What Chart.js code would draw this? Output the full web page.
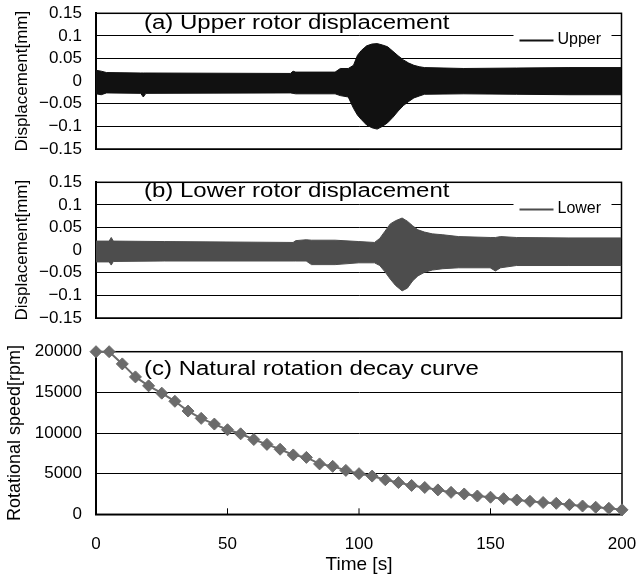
<!DOCTYPE html>
<html>
<head>
<meta charset="utf-8">
<script src="https://cdn.jsdelivr.net/npm/chart.js@4.4.1/dist/chart.umd.min.js"></script>
<style>
  html, body { margin: 0; padding: 0; background: #fff; overflow: hidden; }
  #wrap { position: relative; width: 639px; height: 581px; overflow: hidden; }
  #wrap canvas { position: absolute; left: 0; display: block; }
</style>
</head>
<body>
<div id="wrap">
  <canvas id="upperChart" width="639" height="160" style="top:0"></canvas>
  <canvas id="lowerChart" width="639" height="160" style="top:169px"></canvas>
  <canvas id="speedChart" width="639" height="251" style="top:330px"></canvas>
</div>
<script>
// upper rotor signal, read as envelope (max / min) over time
const upperTime = [0, 2, 4, 17, 18, 19, 74, 75, 76, 91, 93, 96, 98, 99.5, 101, 103, 105, 107, 109, 111, 113, 115, 117, 119, 121, 123, 125, 140, 160, 180, 200];
const upperMax = [0.024, 0.022, 0.019, 0.018, 0.018, 0.018, 0.017, 0.022, 0.020, 0.020, 0.028, 0.028, 0.035, 0.057, 0.068, 0.078, 0.082, 0.083, 0.080, 0.076, 0.066, 0.056, 0.047, 0.040, 0.035, 0.032, 0.030, 0.028, 0.029, 0.030, 0.030];
const upperMin = [-0.028, -0.030, -0.026, -0.027, -0.035, -0.027, -0.026, -0.027, -0.028, -0.028, -0.032, -0.035, -0.060, -0.075, -0.085, -0.097, -0.103, -0.106, -0.100, -0.092, -0.080, -0.066, -0.054, -0.045, -0.037, -0.033, -0.029, -0.028, -0.029, -0.030, -0.030];

// lower rotor signal envelope
const lowerTime = [0, 5, 5.8, 6.6, 26, 75, 76, 80, 82, 91, 100, 106, 108, 110, 112, 114, 116.5, 118.5, 120.5, 122.5, 125, 128, 132, 138, 150, 152, 154, 160, 180, 200];
const lowerMax = [0.020, 0.020, 0.028, 0.020, 0.019, 0.017, 0.021, 0.023, 0.022, 0.022, 0.019, 0.017, 0.026, 0.042, 0.058, 0.065, 0.071, 0.064, 0.054, 0.045, 0.040, 0.036, 0.034, 0.030, 0.028, 0.028, 0.030, 0.028, 0.027, 0.027];
const lowerMin = [-0.026, -0.026, -0.033, -0.025, -0.024, -0.024, -0.024, -0.024, -0.032, -0.032, -0.028, -0.028, -0.034, -0.048, -0.064, -0.078, -0.090, -0.084, -0.068, -0.057, -0.049, -0.044, -0.041, -0.039, -0.039, -0.046, -0.039, -0.034, -0.034, -0.034];

// natural rotation decay
const decayTime = [0, 5, 10, 15, 20, 25, 30, 35, 40, 45, 50, 55, 60, 65, 70, 75, 80, 85, 90, 95, 100, 105, 110, 115, 120, 125, 130, 135, 140, 145, 150, 155, 160, 165, 170, 175, 180, 185, 190, 195, 200];
const decaySpeed = [20000, 20000, 18500, 16900, 15800, 14900, 13900, 12700, 11800, 11100, 10400, 9900, 9200, 8600, 8000, 7300, 7000, 6200, 5900, 5400, 5000, 4700, 4250, 3900, 3550, 3300, 3000, 2700, 2500, 2250, 2100, 1920, 1760, 1600, 1450, 1350, 1180, 1020, 870, 740, 550];

const dispTicks = [-0.15, -0.1, -0.05, 0, 0.05, 0.1, 0.15];
const speedTicks = [0, 5000, 10000, 15000, 20000];

const FONT = '"Liberation Sans", Arial, sans-serif';
Chart.defaults.font.family = FONT;
Chart.defaults.color = '#000';

const toPoints = (xs, ys) => xs.map((x, i) => ({ x: x, y: ys[i] }));

const panelDecor = {
    id: 'panelDecor',
    beforeDatasetsDraw(chart, args, opts) {
        const { ctx, chartArea: a, scales } = chart;
        ctx.save();
        // legend box sits on top of the grid
        if (opts.legend) {
            const gy = scales.y.getPixelForValue(opts.legend.at);
            ctx.fillStyle = '#fff';
            ctx.fillRect(a.right - 108, gy - 3, 98, 15);
            ctx.strokeStyle = opts.legend.color;
            ctx.lineWidth = 2;
            ctx.beginPath();
            ctx.moveTo(a.right - 102, gy + 4.5);
            ctx.lineTo(a.right - 68, gy + 4.5);
            ctx.stroke();
            ctx.fillStyle = '#000';
            ctx.font = '16px ' + FONT;
            ctx.textBaseline = 'middle';
            ctx.fillText(opts.legend.text, a.right - 64, gy + 4);
        }
        ctx.strokeStyle = '#000';
        ctx.lineWidth = 1.5;
        ctx.strokeRect(a.left, a.top, a.right - a.left, a.bottom - a.top);
        if (opts.innerTicks) {
            ctx.lineWidth = 1;
            scales.x.ticks.forEach(t => {
                const x = scales.x.getPixelForValue(t.value);
                ctx.beginPath();
                ctx.moveTo(x, a.bottom);
                ctx.lineTo(x, a.bottom - 6);
                ctx.stroke();
            });
        }
        // panel caption, drawn a bit wider like the original font
        ctx.fillStyle = '#000';
        ctx.font = '20px ' + FONT;
        ctx.textBaseline = 'alphabetic';
        ctx.translate(a.left + 48, a.top + opts.titleDy);
        ctx.scale(1.2, 1);
        ctx.fillText(opts.title, 0, 0);
        ctx.restore();
    }
};

function yAxis(min, max, ticks, title, titleSize, titlePad) {
    return {
        min: min,
        max: max,
        afterBuildTicks: axis => { axis.ticks = ticks.map(v => ({ value: v })); },
        afterFit: axis => {
            // fixed axis width, and no extra room asked for the end labels
            axis.width = 96;
            axis.paddingTop = 0;
            axis.paddingBottom = 0;
        },
        ticks: {
            color: '#000',
            font: { size: 17 },
            padding: 14,
            autoSkip: false,
            callback: v => String(v).replace('-', '\u2212')
        },
        grid: { color: '#000', lineWidth: 1, drawTicks: false },
        border: { display: true, color: '#000', width: 2 },
        title: {
            display: true,
            text: title,
            color: '#000',
            font: { size: titleSize },
            padding: { top: titlePad, bottom: 0 }
        }
    };
}

function signalChart(canvasId, times, maxs, mins, color, caption, legendText, titleDy) {
    const ctx = document.getElementById(canvasId);
    return new Chart(ctx, {
        type: 'line',
        data: {
            datasets: [
                {
                    label: legendText,
                    data: toPoints(times, maxs),
                    borderColor: color,
                    borderWidth: 1,
                    pointRadius: 0,
                    fill: false
                },
                {
                    label: legendText + ' min',
                    data: toPoints(times, mins),
                    borderColor: color,
                    backgroundColor: color,
                    borderWidth: 1,
                    pointRadius: 0,
                    fill: '-1'
                }
            ]
        },
        options: {
            responsive: false,
            animation: false,
            layout: { padding: { left: 0, right: 17.5, top: 13.3, bottom: 11 } },
            scales: {
                x: { type: 'linear', min: 0, max: 200, display: false },
                y: yAxis(-0.15, 0.15, dispTicks, 'Displacement[mm]', 17, 12)
            },
            plugins: {
                legend: { display: false },
                tooltip: { enabled: false },
                panelDecor: {
                    title: caption,
                    titleDy: titleDy,
                    legend: { text: legendText, color: color, at: 0.1 }
                }
            }
        },
        plugins: [panelDecor]
    });
}

signalChart('upperChart', upperTime, upperMax, upperMin, '#111111', '(a) Upper rotor displacement', 'Upper', 15.5);
signalChart('lowerChart', lowerTime, lowerMax, lowerMin, '#4d4d4d', '(b) Lower rotor displacement', 'Lower', 14.5);

new Chart(document.getElementById('speedChart'), {
    type: 'line',
    data: {
        datasets: [{
            label: 'Speed',
            data: toPoints(decayTime, decaySpeed),
            borderColor: '#6b6b6b',
            borderWidth: 2,
            pointStyle: 'rectRot',
            pointRadius: 6,
            pointBackgroundColor: '#6b6b6b',
            pointBorderColor: '#6b6b6b',
            pointBorderWidth: 1,
            clip: false
        }]
    },
    options: {
        responsive: false,
        animation: false,
        layout: { padding: { left: 0, right: 17, top: 21.7, bottom: 5.7 } },
        scales: {
            x: {
                type: 'linear',
                min: 0,
                max: 200,
                afterFit: axis => {
                    axis.height = 61;
                    axis.paddingLeft = 0;
                    axis.paddingRight = 0;
                },
                ticks: { stepSize: 50, color: '#000', font: { size: 17 }, padding: 20, maxRotation: 0 },
                grid: { display: false, drawTicks: false },
                border: { display: true, color: '#000', width: 1.5 },
                title: {
                    display: true,
                    text: 'Time [s]',
                    color: '#000',
                    font: { size: 19, lineHeight: 1.1 },
                    padding: { top: 0, bottom: 0 }
                }
            },
            y: yAxis(0, 20000, speedTicks, 'Rotational speed[rpm]', 18, 4)
        },
        plugins: {
            legend: { display: false },
            tooltip: { enabled: false },
            panelDecor: { title: '(c) Natural rotation decay curve', titleDy: 23.5, innerTicks: true }
        }
    },
    plugins: [panelDecor]
});
</script>
</body>
</html>
